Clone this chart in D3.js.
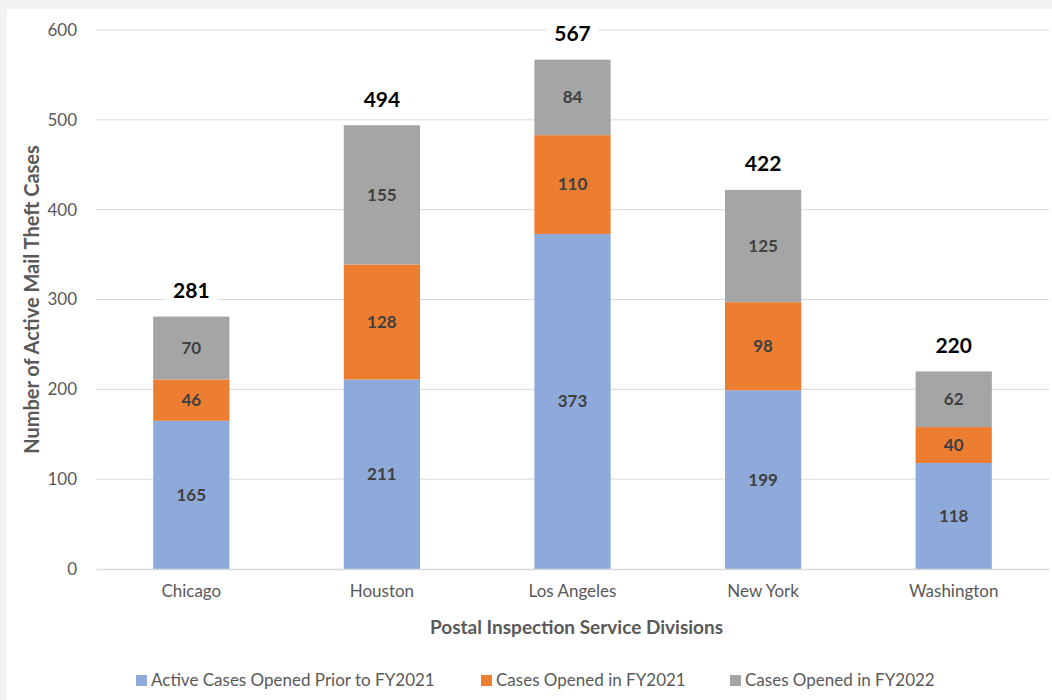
<!DOCTYPE html>
<html>
<head>
<meta charset="utf-8">
<script src="https://cdn.jsdelivr.net/npm/d3@7"></script>
<style>
  html, body { margin: 0; padding: 0; background: #f2f2f2; }
  svg { display: block; }
  text { font-family: Lato, "Open Sans", sans-serif; }
</style>
</head>
<body>
<svg id="chart" width="1052" height="700"></svg>
<script>
// Active mail theft cases by Postal Inspection Service division
const divisions = ["Chicago", "Houston", "Los Angeles", "New York", "Washington"];
const priorFY2021 = [165, 211, 373, 199, 118];
const openedFY2021 = [46, 128, 110, 98, 40];
const openedFY2022 = [70, 155, 84, 125, 62];
const seriesNames = ["Active Cases Opened Prior to FY2021", "Cases Opened in FY2021", "Cases Opened in FY2022"];
const seriesColors = ["#8eaadb", "#ed7d31", "#a5a5a5"];
const yTicks = [0, 100, 200, 300, 400, 500, 600];

const svg = d3.select("#chart");
const W = 1052, H = 700;

// white chart panel on a light grey page
svg.append("rect").attr("x", 7).attr("y", 9).attr("width", W - 7).attr("height", H - 9).attr("fill", "#ffffff");

const margin = { left: 96, right: 3, top: 30, bottom: 131 };
const x = d3.scaleBand().domain(divisions)
  .range([margin.left, W - margin.right])
  .paddingInner(0.6).paddingOuter(0.3);
const y = d3.scaleLinear().domain([0, 600]).range([H - margin.bottom, margin.top]);

const rows = divisions.map((d, i) => ({
  division: d,
  s0: priorFY2021[i],
  s1: openedFY2021[i],
  s2: openedFY2022[i]
}));
const stack = d3.stack().keys(["s0", "s1", "s2"]);
const layers = stack(rows);

// gridlines
svg.append("g").selectAll("line").data(yTicks.filter(t => t > 0)).join("line")
  .attr("x1", margin.left).attr("x2", W - margin.right)
  .attr("y1", d => y(d)).attr("y2", d => y(d))
  .attr("stroke", "#d9d9d9").attr("stroke-width", 1);

// y axis tick labels
const yAxis = svg.append("g").attr("transform", `translate(${margin.left},0)`)
  .call(d3.axisLeft(y).tickValues(yTicks).tickSize(0).tickPadding(19));
yAxis.select(".domain").remove();
yAxis.selectAll("text").attr("font-size", 17).attr("fill", "#595959")
  .style("font-family", "Lato, sans-serif");

// stacked bars
const barG = svg.append("g");
layers.forEach((layer, li) => {
  barG.append("g").selectAll("rect").data(layer).join("rect")
    .attr("x", d => x(d.data.division))
    .attr("width", x.bandwidth())
    .attr("y", d => y(d[1]))
    .attr("height", d => y(d[0]) - y(d[1]))
    .attr("fill", seriesColors[li]);
  barG.append("g").selectAll("text").data(layer).join("text")
    .attr("x", d => x(d.data.division) + x.bandwidth() / 2)
    .attr("y", d => (y(d[0]) + y(d[1])) / 2)
    .attr("dy", "0.35em")
    .attr("text-anchor", "middle")
    .attr("font-size", 17).attr("font-weight", "bold").attr("fill", "#404040")
    .text(d => d[1] - d[0]);
});

// x axis baseline and category labels
const xAxis = svg.append("g").attr("transform", `translate(0,${y(0)})`)
  .call(d3.axisBottom(x).tickSize(0).tickPadding(16));
xAxis.select(".domain").attr("stroke", "#d9d9d9").attr("stroke-width", 1.5);
xAxis.selectAll("text").attr("font-size", 17).attr("fill", "#595959")
  .style("font-family", "Lato, sans-serif");

// totals above each bar, on a white backing
const totals = rows.map(r => ({ division: r.division, total: r.s0 + r.s1 + r.s2 }));
const totalG = svg.append("g").selectAll("g").data(totals).join("g")
  .attr("transform", d => `translate(${x(d.division) + x.bandwidth() / 2},${y(d.total) - 26})`);
totalG.append("rect").attr("x", -26).attr("y", -14).attr("width", 52).attr("height", 28).attr("fill", "#ffffff");
totalG.append("text").attr("text-anchor", "middle").attr("dy", "0.35em")
  .attr("font-size", 21).attr("font-weight", "bold").attr("fill", "#000000")
  .text(d => d.total);

// axis titles
svg.append("text")
  .attr("x", (margin.left + W - margin.right) / 2 + 4).attr("y", 627)
  .attr("dy", "0.35em").attr("text-anchor", "middle")
  .attr("font-size", 19).attr("font-weight", "bold").attr("fill", "#595959")
  .text("Postal Inspection Service Divisions");
svg.append("text")
  .attr("transform", `translate(32,${y(300)}) rotate(-90)`)
  .attr("dy", "0.35em").attr("text-anchor", "middle")
  .attr("font-size", 20).attr("font-weight", "bold").attr("fill", "#595959")
  .text("Number of Active Mail Theft Cases");

// legend
const legendX = [136, 481, 730];
const legend = svg.append("g").selectAll("g").data(seriesNames).join("g")
  .attr("transform", (d, i) => `translate(${legendX[i]},680)`);
legend.append("rect").attr("x", 0).attr("y", -5).attr("width", 11).attr("height", 11)
  .attr("fill", (d, i) => seriesColors[i]);
legend.append("text").attr("x", 15).attr("dy", "0.35em")
  .attr("font-size", 17).attr("fill", "#595959")
  .text(d => d);
</script>
</body>
</html>
